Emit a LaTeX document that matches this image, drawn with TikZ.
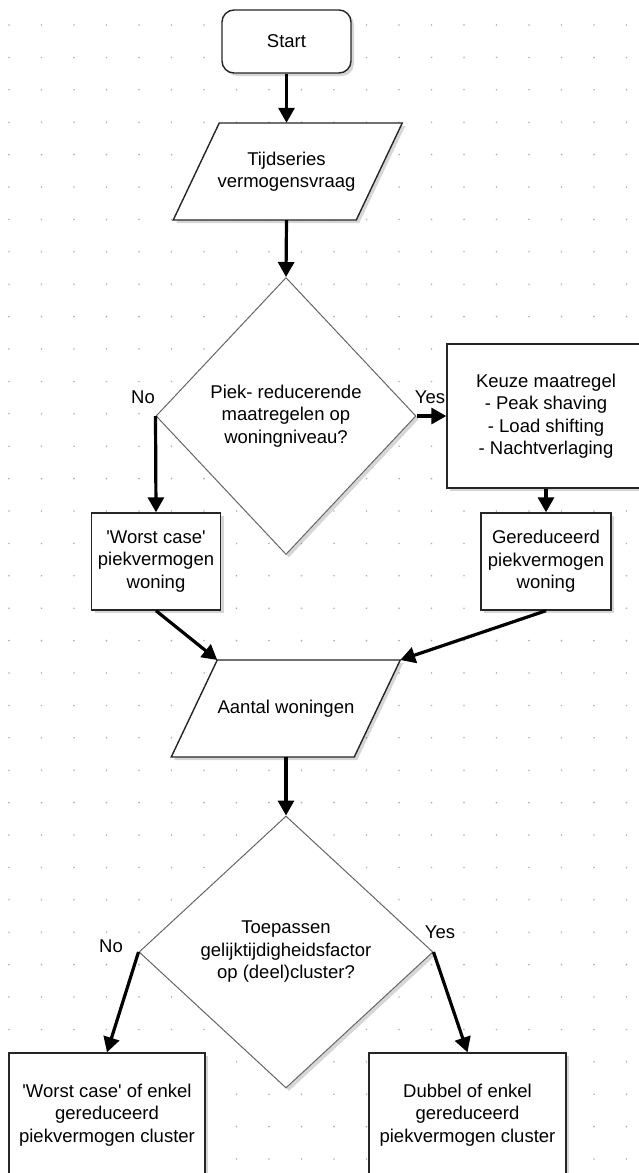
\documentclass[tikz,border=0pt]{standalone}
\usepackage{fontspec}
\setmainfont{Liberation Sans}
\usetikzlibrary{arrows.meta,shapes.geometric,shadows}
\newcommand\diagfont{\fontsize{18.5}{22.5}\selectfont}
\begin{document}
\begin{tikzpicture}[x=1pt,y=-1pt,
  shade3/.style={drop shadow={shadow xshift=3pt,shadow yshift=-3pt,fill=black,opacity=0.16}},
  box/.style={draw=black!85,line width=1.4pt,fill=white,align=center,inner sep=0pt,font=\diagfont,text=black,shade3},
  startbox/.style={box,rounded corners=12pt},
  para/.style={draw=black!85,line width=1.4pt,fill=white,shade3},
  decision/.style={shape=diamond,draw=black!60,line width=1pt,fill=white,align=center,inner sep=0pt,font=\diagfont,text=black,shade3},
  txt/.style={align=center,inner sep=0pt,font=\diagfont,text=black},
  arr/.style={line width=3.2pt,black,-{Triangle[length=15pt,width=16pt]}},
  griddot/.style={fill=black!30}
]
\useasboundingbox (0,0) rectangle (639,1173);
\clip (0,0) rectangle (639,1173);
\fill[white] (0,0) rectangle (639,1173);
% dotted grid
\foreach \i in {0,...,19}{
  \foreach \j in {0,...,35}{
    \fill[griddot] (9+32.5*\i,25+32.4*\j) circle (0.9);
  }
}
% start
\node[startbox,minimum width=129pt,minimum height=63pt] (start) at (286.5,41.5) {Start};
% parallelogram 1
\draw[para] (219.25,123) -- (402.25,123) -- (356.25,220) -- (173.25,220) -- cycle;
\node[txt,minimum height=97pt] (tijd) at (286.5,171.5) {Tijdseries\\vermogensvraag};
% decision 1
\node[decision,minimum width=260pt,minimum height=277pt] (d1) at (286,416) {Piek- reducerende\\maatregelen op\\woningniveau?};
% keuze
\node[box,minimum width=198pt,minimum height=144pt] (keuze) at (546,416) {Keuze maatregel\\- Peak shaving\\- Load shifting\\- Nachtverlaging};
% result boxes level 1
\node[box,minimum width=129pt,minimum height=97pt] (wc) at (156,561.5) {\textquotesingle Worst case\textquotesingle\\piekvermogen\\woning};
\node[box,minimum width=130pt,minimum height=97pt] (ger) at (546,561.5) {Gereduceerd\\piekvermogen\\woning};
% parallelogram 2
\draw[para] (217.25,660) -- (400.25,660) -- (354.25,757) -- (171.25,757) -- cycle;
\coordinate (p2tl) at (217.25,660);
\coordinate (p2tr) at (400.25,660);
\node[txt,minimum height=97pt] (aantal) at (286,708.5) {Aantal woningen};
% decision 2
\node[decision,minimum width=294pt,minimum height=272pt] (d2) at (286,952) {Toepassen\\gelijktijdigheidsfactor\\op (deel)cluster?};
% bottom boxes
\node[box,minimum width=196pt,minimum height=124pt] (bl) at (107,1115) {\textquotesingle Worst case\textquotesingle{} of enkel\\gereduceerd\\piekvermogen cluster};
\node[box,minimum width=197pt,minimum height=124pt] (br) at (467.5,1115) {Dubbel of enkel\\gereduceerd\\piekvermogen cluster};
% labels
\node[txt] (no1) at (143,397) {No};
\node[txt] (yes1) at (430,397) {Yes};
\node[txt] (no2) at (111,946) {No};
\node[txt] (yes2) at (440,932) {Yes};
% connectors
\draw[arr] (start.south) -- (tijd.north);
\draw[arr] (tijd.south) -- (d1.north);
\draw[arr] (d1.east) -- (keuze.west);
\draw[arr] (d1.west) -- (wc.north);
\draw[arr] (keuze.south) -- (ger.north);
\draw[arr] (wc.south) -- (p2tl);
\draw[arr] (ger.south) -- (p2tr);
\draw[arr] (aantal.south) -- (d2.north);
\draw[arr] (d2.west) -- (bl.north);
\draw[arr] (d2.east) -- (br.north);
\end{tikzpicture}
\end{document}
